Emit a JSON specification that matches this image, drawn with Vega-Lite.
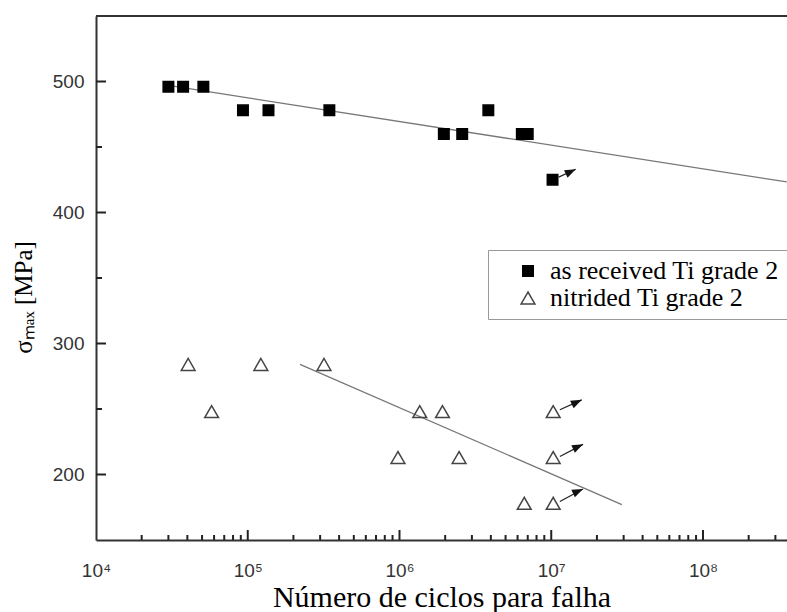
{
  "$schema": "https://vega.github.io/schema/vega-lite/v6.json",
  "width": 691,
  "height": 524,
  "autosize": {"type": "none"},
  "padding": {"left": 96, "top": 16, "right": 0, "bottom": 72},
  "background": "white",
  "resolve": {"axis": {"x": "independent", "y": "independent"}},
  "config": {
    "view": {"stroke": null},
    "axis": {"grid": false, "domainColor": "#333", "domainWidth": 2},
    "legend": {
      "orient": "none",
      "legendX": 392,
      "legendY": 234,
      "padding": 8,
      "rowPadding": 1,
      "symbolOffset": 19,
      "labelOffset": 9,
      "labelFont": "Liberation Serif",
      "labelFontSize": 26,
      "labelColor": "black",
      "labelLimit": 500,
      "strokeColor": "#999",
      "fillColor": "white",
      "symbolStrokeWidth": 1.5
    }
  },
  "datasets": {
    "pts": [
      {"series": "as received Ti grade 2", "N": 30000, "s": 496},
      {"series": "as received Ti grade 2", "N": 37500, "s": 496},
      {"series": "as received Ti grade 2", "N": 51000, "s": 496},
      {"series": "as received Ti grade 2", "N": 93000, "s": 478},
      {"series": "as received Ti grade 2", "N": 137000, "s": 478},
      {"series": "as received Ti grade 2", "N": 345000, "s": 478},
      {"series": "as received Ti grade 2", "N": 1960000, "s": 460},
      {"series": "as received Ti grade 2", "N": 2590000, "s": 460},
      {"series": "as received Ti grade 2", "N": 3850000, "s": 478},
      {"series": "as received Ti grade 2", "N": 6400000, "s": 460},
      {"series": "as received Ti grade 2", "N": 7000000, "s": 460},
      {"series": "as received Ti grade 2", "N": 10200000, "s": 425},
      {"series": "nitrided Ti grade 2", "N": 40500, "s": 284},
      {"series": "nitrided Ti grade 2", "N": 122000, "s": 284},
      {"series": "nitrided Ti grade 2", "N": 318000, "s": 284},
      {"series": "nitrided Ti grade 2", "N": 57800, "s": 248},
      {"series": "nitrided Ti grade 2", "N": 1360000, "s": 248},
      {"series": "nitrided Ti grade 2", "N": 1920000, "s": 248},
      {"series": "nitrided Ti grade 2", "N": 10300000, "s": 248},
      {"series": "nitrided Ti grade 2", "N": 977000, "s": 213},
      {"series": "nitrided Ti grade 2", "N": 2470000, "s": 213},
      {"series": "nitrided Ti grade 2", "N": 10300000, "s": 213},
      {"series": "nitrided Ti grade 2", "N": 6640000, "s": 178},
      {"series": "nitrided Ti grade 2", "N": 10300000, "s": 178}
    ],
    "fits": [
      {"fit": "as received", "N": 30000, "s": 497},
      {"fit": "as received", "N": 357000000, "s": 423.3},
      {"fit": "nitrided", "N": 221000, "s": 284},
      {"fit": "nitrided", "N": 29200000, "s": 177}
    ],
    "arrows": [
      {"N": 11200000, "s": 427, "N2": 14500000, "s2": 433},
      {"N": 11400000, "s": 249.4, "N2": 15900000, "s2": 257},
      {"N": 11400000, "s": 213.7, "N2": 16200000, "s2": 223},
      {"N": 11400000, "s": 179.4, "N2": 16200000, "s2": 189}
    ],
    "xmajor": [{"N": 100000}, {"N": 1000000}, {"N": 10000000}, {"N": 100000000}],
    "xminor": [
      {"N": 20000}, {"N": 30000}, {"N": 40000}, {"N": 50000}, {"N": 60000}, {"N": 70000}, {"N": 80000}, {"N": 90000},
      {"N": 200000}, {"N": 300000}, {"N": 400000}, {"N": 500000}, {"N": 600000}, {"N": 700000}, {"N": 800000}, {"N": 900000},
      {"N": 2000000}, {"N": 3000000}, {"N": 4000000}, {"N": 5000000}, {"N": 6000000}, {"N": 7000000}, {"N": 8000000}, {"N": 9000000},
      {"N": 20000000}, {"N": 30000000}, {"N": 40000000}, {"N": 50000000}, {"N": 60000000}, {"N": 70000000}, {"N": 80000000}, {"N": 90000000},
      {"N": 200000000}, {"N": 300000000}
    ],
    "ymajor": [{"s": 200}, {"s": 300}, {"s": 400}, {"s": 500}],
    "yminor": [{"s": 250}, {"s": 350}, {"s": 450}]
  },
  "layer": [
    {
      "data": {"values": [{"s": 550}]},
      "mark": {"type": "rule", "color": "#333", "strokeWidth": 2},
      "encoding": {
        "y": {"field": "s", "type": "quantitative", "scale": {"domain": [150, 550], "nice": false, "zero": false}, "axis": null}
      }
    },
    {
      "data": {"name": "xmajor"},
      "mark": {"type": "rule", "color": "#222", "strokeWidth": 2},
      "encoding": {
        "x": {"field": "N", "type": "quantitative", "scale": {"type": "log", "domain": [10000, 357800000], "nice": false}, "axis": null},
        "y": {"datum": 150, "type": "quantitative", "scale": {"domain": [150, 550], "nice": false, "zero": false}, "axis": null},
        "y2": {"datum": 157.63}
      }
    },
    {
      "data": {"name": "xminor"},
      "mark": {"type": "rule", "color": "#222", "strokeWidth": 2},
      "encoding": {
        "x": {"field": "N", "type": "quantitative", "scale": {"type": "log", "domain": [10000, 357800000], "nice": false}, "axis": null},
        "y": {"datum": 150, "type": "quantitative", "scale": {"domain": [150, 550], "nice": false, "zero": false}, "axis": null},
        "y2": {"datum": 153.82}
      }
    },
    {
      "data": {"name": "ymajor"},
      "mark": {"type": "rule", "color": "#222", "strokeWidth": 2},
      "encoding": {
        "y": {"field": "s", "type": "quantitative", "scale": {"domain": [150, 550], "nice": false, "zero": false}, "axis": null},
        "x": {"datum": 10000, "type": "quantitative", "scale": {"type": "log", "domain": [10000, 357800000], "nice": false}, "axis": null},
        "x2": {"datum": 11637}
      }
    },
    {
      "data": {"name": "yminor"},
      "mark": {"type": "rule", "color": "#222", "strokeWidth": 2},
      "encoding": {
        "y": {"field": "s", "type": "quantitative", "scale": {"domain": [150, 550], "nice": false, "zero": false}, "axis": null},
        "x": {"datum": 10000, "type": "quantitative", "scale": {"type": "log", "domain": [10000, 357800000], "nice": false}, "axis": null},
        "x2": {"datum": 10953}
      }
    },
    {
      "data": {"name": "fits"},
      "mark": {"type": "line", "color": "#777", "strokeWidth": 1.3, "clip": true},
      "encoding": {
        "x": {"field": "N", "type": "quantitative", "scale": {"type": "log", "domain": [10000, 357800000], "nice": false}, "axis": null},
        "y": {"field": "s", "type": "quantitative", "scale": {"domain": [150, 550], "nice": false, "zero": false}, "axis": null},
        "detail": {"field": "fit", "type": "nominal"}
      }
    },
    {
      "data": {"name": "arrows"},
      "mark": {"type": "rule", "color": "#222", "strokeWidth": 1.2},
      "encoding": {
        "x": {"field": "N", "type": "quantitative", "scale": {"type": "log", "domain": [10000, 357800000], "nice": false}, "axis": null},
        "y": {"field": "s", "type": "quantitative", "scale": {"domain": [150, 550], "nice": false, "zero": false}, "axis": null},
        "x2": {"field": "N2"},
        "y2": {"field": "s2"}
      }
    },
    {
      "data": {"name": "arrows"},
      "mark": {"type": "point", "shape": "M0,0 L-1,-0.38 L-1,0.38 Z", "filled": true, "color": "#111", "opacity": 1, "size": 480, "angle": 335},
      "encoding": {
        "x": {"field": "N2", "type": "quantitative", "scale": {"type": "log", "domain": [10000, 357800000], "nice": false}, "axis": null},
        "y": {"field": "s2", "type": "quantitative", "scale": {"domain": [150, 550], "nice": false, "zero": false}, "axis": null}
      }
    },
    {
      "data": {"name": "pts"},
      "mark": {"type": "point", "opacity": 1, "strokeWidth": 1.5},
      "encoding": {
        "x": {
          "field": "N", "type": "quantitative",
          "scale": {"type": "log", "domain": [10000, 357800000], "nice": false},
          "axis": {
            "orient": "bottom",
            "values": [10000, 100000, 1000000, 10000000, 100000000],
            "labelExpr": "datum.value == 10000 ? '10⁴' : datum.value == 100000 ? '10⁵' : datum.value == 1000000 ? '10⁶' : datum.value == 10000000 ? '10⁷' : '10⁸'",
            "ticks": false,
            "tickSize": 0,
            "labelPadding": 21,
            "labelOverlap": false,
            "labelFlush": false,
            "labelBound": false,
            "labelFont": "Liberation Sans",
            "labelFontSize": 19,
            "labelColor": "#333",
            "title": "Número de ciclos para falha",
            "titleFont": "Liberation Serif",
            "titleFontSize": 30,
            "titleFontWeight": "normal",
            "titleColor": "black",
            "titleBaseline": "alphabetic",
            "titleY": 66
          }
        },
        "y": {
          "field": "s", "type": "quantitative",
          "scale": {"domain": [150, 550], "nice": false, "zero": false},
          "axis": {
            "orient": "left",
            "values": [200, 300, 400, 500],
            "ticks": false,
            "tickSize": 0,
            "labelPadding": 12,
            "labelOverlap": false,
            "labelFont": "Liberation Sans",
            "labelFontSize": 19,
            "labelColor": "#333",
            "title": "σₘₐₓ [MPa]",
            "titleFont": "Liberation Serif",
            "titleFontSize": 25,
            "titleFontWeight": "normal",
            "titleColor": "black",
            "titlePadding": 16,
            "titleY": 281
          }
        },
        "shape": {
          "field": "series", "type": "nominal",
          "scale": {"domain": ["as received Ti grade 2", "nitrided Ti grade 2"], "range": ["square", "triangle-up"]},
          "legend": {"title": null}
        },
        "fill": {
          "field": "series", "type": "nominal",
          "scale": {"domain": ["as received Ti grade 2", "nitrided Ti grade 2"], "range": ["#000000", "transparent"]},
          "legend": {"title": null}
        },
        "stroke": {
          "field": "series", "type": "nominal",
          "scale": {"domain": ["as received Ti grade 2", "nitrided Ti grade 2"], "range": ["#000000", "#444444"]},
          "legend": {"title": null}
        },
        "size": {
          "field": "series", "type": "nominal",
          "scale": {"type": "ordinal", "domain": ["as received Ti grade 2", "nitrided Ti grade 2"], "range": [110, 190]},
          "legend": {"title": null}
        }
      }
    }
  ]
}
